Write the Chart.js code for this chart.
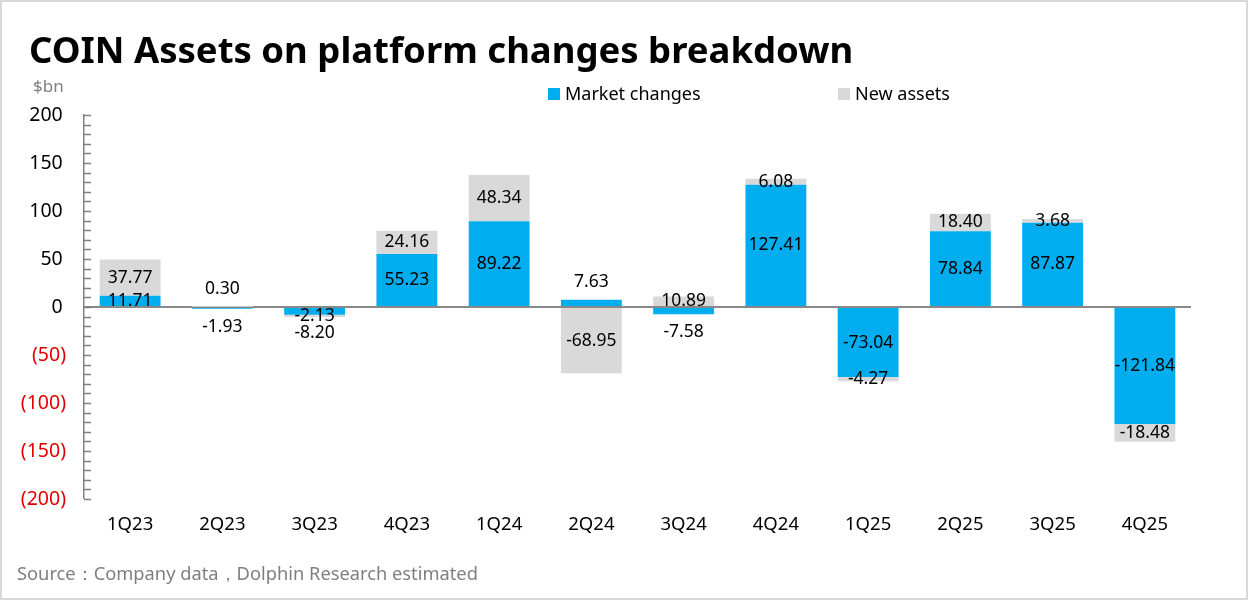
<!DOCTYPE html>
<html>
<head>
<meta charset="utf-8">
<script src="https://cdn.jsdelivr.net/npm/chart.js@4.4.1/dist/chart.umd.min.js"></script>
<style>
  html, body { margin:0; padding:0; background:#fff; }
  #wrap { position:relative; width:1248px; height:600px; overflow:hidden; font-family:"Noto Sans", "Open Sans", sans-serif; }
  #frame { position:absolute; left:0; top:0; width:1244px; height:596px; border:2px solid #d9d9d9; pointer-events:none; }
  #title { position:absolute; left:29px; top:25px; font-size:36.5px; font-weight:bold; color:#000; line-height:48px; white-space:nowrap; }
  #unit { position:absolute; left:33px; top:75px; font-size:17px; color:#808080; line-height:22px; }
  .leg { position:absolute; top:81px; font-size:18px; color:#000; line-height:24px; white-space:nowrap; }
  .leg span.sw { display:inline-block; width:12px; height:12px; margin-right:5px; vertical-align:0px; }
  #source { position:absolute; left:17px; top:561px; font-size:18.3px; color:#7f7f7f; line-height:24px; white-space:nowrap; }
  canvas { position:absolute; left:0; top:0; }
</style>
</head>
<body>
<div id="wrap">
  <canvas id="c" width="1248" height="600"></canvas>
  <div id="title">COIN Assets on platform changes breakdown</div>
  <div id="unit">$bn</div>
  <div class="leg" style="left:548px;"><span class="sw" style="background:#00AEEF"></span>Market changes</div>
  <div class="leg" style="left:838px;"><span class="sw" style="background:#D9D9D9"></span>New assets</div>
  <div id="source">Source：Company data，Dolphin Research estimated</div>
  <div id="frame"></div>
</div>
<script>
const categories = ["1Q23","2Q23","3Q23","4Q23","1Q24","2Q24","3Q24","4Q24","1Q25","2Q25","3Q25","4Q25"];
const marketChanges = [11.71, -1.93, -8.20, 55.23, 89.22, 7.63, -7.58, 127.41, -73.04, 78.84, 87.87, -121.84];
const newAssets = [37.77, 0.30, -2.13, 24.16, 48.34, -68.95, 10.89, 6.08, -4.27, 18.40, 3.68, -18.48];
const yMin = -200, yMax = 200, yMajorStep = 50, yMinorStep = 10;

const minorTicks = {
  id: 'minorTicks',
  afterDraw(chart) {
    const y = chart.scales.y, ctx = chart.ctx;
    const x0 = chart.chartArea.left;
    ctx.save();
    ctx.strokeStyle = '#808080';
    ctx.lineWidth = 1.5;
    for (let v = yMin; v <= yMax; v += yMinorStep) {
      const py = Math.round(y.getPixelForValue(v)) + 0.5;
      ctx.beginPath();
      ctx.moveTo(x0, py);
      ctx.lineTo(x0 + 7, py);
      ctx.stroke();
    }
    ctx.restore();
  }
};

const valueLabels = {
  id: 'valueLabels',
  afterDatasetsDraw(chart) {
    const ctx = chart.ctx;
    const ys = chart.scales.y;
    ctx.save();
    ctx.font = '17.5px "Noto Sans", "Open Sans", sans-serif';
    ctx.fillStyle = '#000';
    ctx.textAlign = 'center';
    ctx.textBaseline = 'middle';
    const zero = ys.getPixelForValue(0);
    chart.data.datasets.forEach((ds, di) => {
      const meta = chart.getDatasetMeta(di);
      meta.data.forEach((el, i) => {
        const v = ds.data[i];
        const p = el.getProps(['x', 'y', 'base'], true);
        let cy = (p.y + p.base) / 2;
        const h = Math.abs(ys.getPixelForValue(v) - zero);
        const other = di === 0 ? 0 : chart.data.datasets[0].data[i];
        const touchesZero = di === 0 || Math.sign(other) !== Math.sign(v);
        if (h < 9 && touchesZero) {
          const end = ys.getPixelForValue(v);
          cy = v >= 0 ? end - 18 : end + 18;
        }
        ctx.fillText(v.toFixed(2), p.x, cy);
      });
    });
    ctx.restore();
  }
};

new Chart(document.getElementById('c'), {
  type: 'bar',
  data: {
    labels: categories,
    datasets: [
      { label: 'Market changes', data: marketChanges, backgroundColor: '#00AEEF', stack: 's' },
      { label: 'New assets', data: newAssets, backgroundColor: '#D9D9D9', stack: 's' }
    ]
  },
  options: {
    responsive: false,
    animation: false,
    devicePixelRatio: 1,
    layout: { padding: { left: 0, right: 57, top: 115, bottom: 0 } },
    plugins: { legend: { display: false }, tooltip: { enabled: false } },
    datasets: { bar: { barPercentage: 1, categoryPercentage: 0.66 } },
    scales: {
      x: {
        stacked: true,
        grid: { display: false },
        border: { display: false },
        ticks: { color: '#000', font: { family: '"Noto Sans", "Open Sans", sans-serif', size: 18.5 }, padding: 7, maxRotation: 0 },
        afterFit(s) { s.height = 101; }
      },
      y: {
        stacked: true,
        min: yMin, max: yMax,
        afterBuildTicks(s) {
          const t = [];
          for (let v = yMin; v <= yMax; v += yMajorStep) t.push({ value: v });
          s.ticks = t;
        },
        grid: {
          drawTicks: false,
          color: c => (c.tick && c.tick.value === 0) ? '#888888' : 'rgba(0,0,0,0)',
          lineWidth: c => (c.tick && c.tick.value === 0) ? 2 : 0
        },
        border: { display: true, color: '#808080', width: 1.5 },
        ticks: {
          padding: 18,
          font: { family: '"Noto Sans", "Open Sans", sans-serif', size: 19.5 },
          color: c => c.tick.value < 0 ? '#E00000' : '#000000',
          callback: v => v < 0 ? '(' + (-v) + ')' : String(v) + '\u2009'
        },
        afterFit(s) { s.width = 84; }
      }
    }
  },
  plugins: [minorTicks, valueLabels]
});
</script>
</body>
</html>
